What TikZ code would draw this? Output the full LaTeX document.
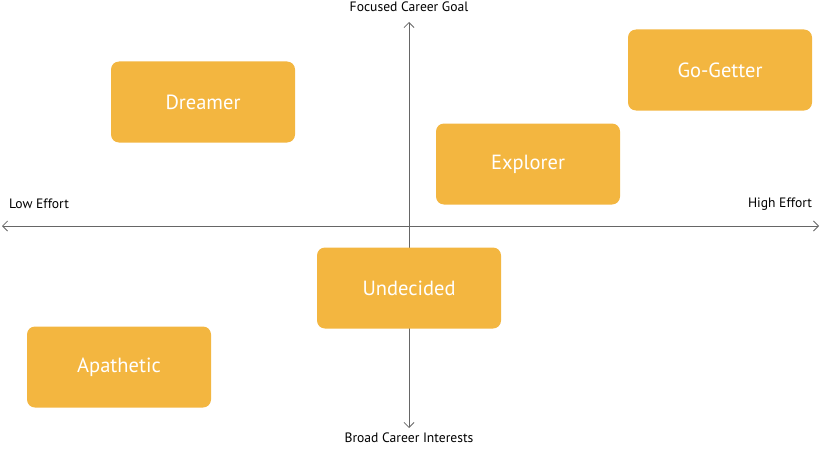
\documentclass[tikz,border=0pt]{standalone}
\usepackage{fontspec}
\setmainfont{PT Sans}
\usetikzlibrary{arrows.meta}
\definecolor{boxorange}{HTML}{F3B640}
\begin{document}
\begin{tikzpicture}[x=1pt, y=-1pt,
            quadbox/.style={rectangle, fill=boxorange, rounded corners=8pt, minimum width=184pt, minimum height=81pt, text=white, font=\fontsize{20.5}{24}\selectfont},
            axislabel/.style={font=\fontsize{13.6}{16}\selectfont, text=black},
            axis/.style={draw=black!60, thick, -{Straight Barb[length=5pt, width=10pt]}}
        ]
        \useasboundingbox (0,0) rectangle (821,452);

        % Axis ends
        \coordinate (top) at (409,22);
        \coordinate (bottom) at (409,428);
        \coordinate (left) at (2,226);
        \coordinate (right) at (819,226);
        \coordinate (origin) at (409,226);

        % Axes
        \draw[axis] (origin) -- (top);
        \draw[axis] (origin) -- (bottom);
        \draw[axis] (origin) -- (left);
        \draw[axis] (origin) -- (right);

        % Axis labels
        \node[axislabel] (goal) at (409,7) {Focused Career Goal};
        \node[axislabel] (broad) at (409,438) {Broad Career Interests};
        \node[axislabel] (low) at (39,204) {Low Effort};
        \node[axislabel] (high) at (780,204) {High Effort};

        % Quadrant boxes
        \node[quadbox] (dreamer) at (203,102) {Dreamer};
        \node[quadbox] (gogetter) at (720,70) {Go-Getter};
        \node[quadbox] (explorer) at (528,164) {Explorer};
        \node[quadbox] (undecided) at (409,288) {Undecided};
        \node[quadbox] (apathetic) at (119,367) {Apathetic};

    \end{tikzpicture}
\end{document}
